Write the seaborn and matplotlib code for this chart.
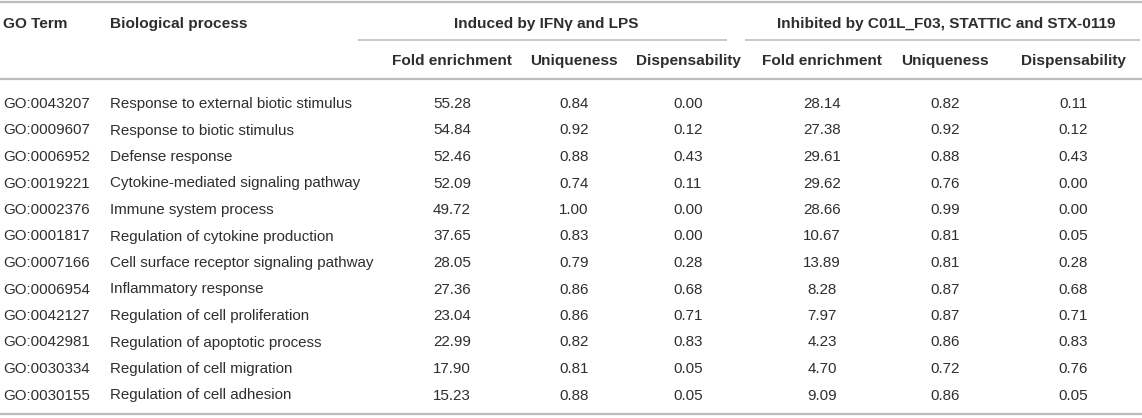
import matplotlib
matplotlib.use("Agg")
import matplotlib.pyplot as plt
import seaborn as sns

# Daten der Tabelle
go_terms = ["GO:0043207", "GO:0009607", "GO:0006952", "GO:0019221", "GO:0002376", "GO:0001817",
            "GO:0007166", "GO:0006954", "GO:0042127", "GO:0042981", "GO:0030334", "GO:0030155"]
processes = ["Response to external biotic stimulus", "Response to biotic stimulus", "Defense response",
             "Cytokine-mediated signaling pathway", "Immune system process",
             "Regulation of cytokine production", "Cell surface receptor signaling pathway",
             "Inflammatory response", "Regulation of cell proliferation",
             "Regulation of apoptotic process", "Regulation of cell migration",
             "Regulation of cell adhesion"]
ind_fold = [55.28, 54.84, 52.46, 52.09, 49.72, 37.65, 28.05, 27.36, 23.04, 22.99, 17.90, 15.23]
ind_uniq = [0.84, 0.92, 0.88, 0.74, 1.00, 0.83, 0.79, 0.86, 0.86, 0.82, 0.81, 0.88]
ind_disp = [0.00, 0.12, 0.43, 0.11, 0.00, 0.00, 0.28, 0.68, 0.71, 0.83, 0.05, 0.05]
inh_fold = [28.14, 27.38, 29.61, 29.62, 28.66, 10.67, 13.89, 8.28, 7.97, 4.23, 4.70, 9.09]
inh_uniq = [0.82, 0.92, 0.88, 0.76, 0.99, 0.81, 0.81, 0.87, 0.87, 0.86, 0.72, 0.86]
inh_disp = [0.11, 0.12, 0.43, 0.00, 0.00, 0.05, 0.28, 0.68, 0.71, 0.83, 0.76, 0.05]

group_labels = ["Induced by IFNγ and LPS", "Inhibited by C01L_F03, STATTIC and STX-0119"]
sub_labels = ["Fold enrichment", "Uniqueness", "Dispensability"]

sns.set_theme(style="white")
plt.rcParams['font.family'] = ['Liberation Sans', 'DejaVu Sans']

W, H = 1142, 418
fig = plt.figure(figsize=(W / 100, H / 100), dpi=100)
ax = fig.add_axes([0, 0, 1, 1])
ax.set_xlim(0, W)
ax.set_ylim(H, 0)
ax.axis('off')

txt = '#2e2e2e'
linie = '#bdbdbd'
fs = 10.9
fs_kopf = 11.1

# Spaltenpositionen (Mitte der Zahlenspalten)
num_x = [452, 574, 688, 822, 945, 1073]
group_span = [(358, 727), (745, 1140)]

# Linien
ax.plot([0, W], [2, 2], color=linie, lw=1.6, solid_capstyle='butt')
for x0, x1 in group_span:
    ax.plot([x0, x1], [39.5, 39.5], color=linie, lw=1.2, solid_capstyle='butt')
ax.plot([0, W], [79, 79], color=linie, lw=1.6, solid_capstyle='butt')
ax.plot([0, W], [414, 414], color=linie, lw=1.6, solid_capstyle='butt')

# Kopfzeilen (Grundlinie statt Mitte, damit Unterlängen nicht verschieben)
kw_kopf = dict(va='baseline', fontsize=fs_kopf, fontweight='bold', color=txt)
ax.text(3, 28, "GO Term", ha='left', **kw_kopf)
ax.text(110, 28, "Biological process", ha='left', **kw_kopf)
for (x0, x1), lab in zip(group_span, group_labels):
    ax.text((x0 + x1) / 2 + 4, 28, lab, ha='center', **kw_kopf)
for nx, lab in zip(num_x, sub_labels * 2):
    ax.text(nx, 64.8, lab, ha='center', **kw_kopf)

# Datenzeilen
kw = dict(va='baseline', fontsize=fs, color=txt)
spalten = [ind_fold, ind_uniq, ind_disp, inh_fold, inh_uniq, inh_disp]
for i in range(len(go_terms)):
    y = 108 + i * 26.5
    ax.text(3, y, go_terms[i], ha='left', **kw)
    ax.text(110, y, processes[i], ha='left', **kw)
    for nx, werte in zip(num_x, spalten):
        ax.text(nx, y, f"{werte[i]:.2f}", ha='center', **kw)

fig.savefig("out.png", dpi=100, facecolor='white')
